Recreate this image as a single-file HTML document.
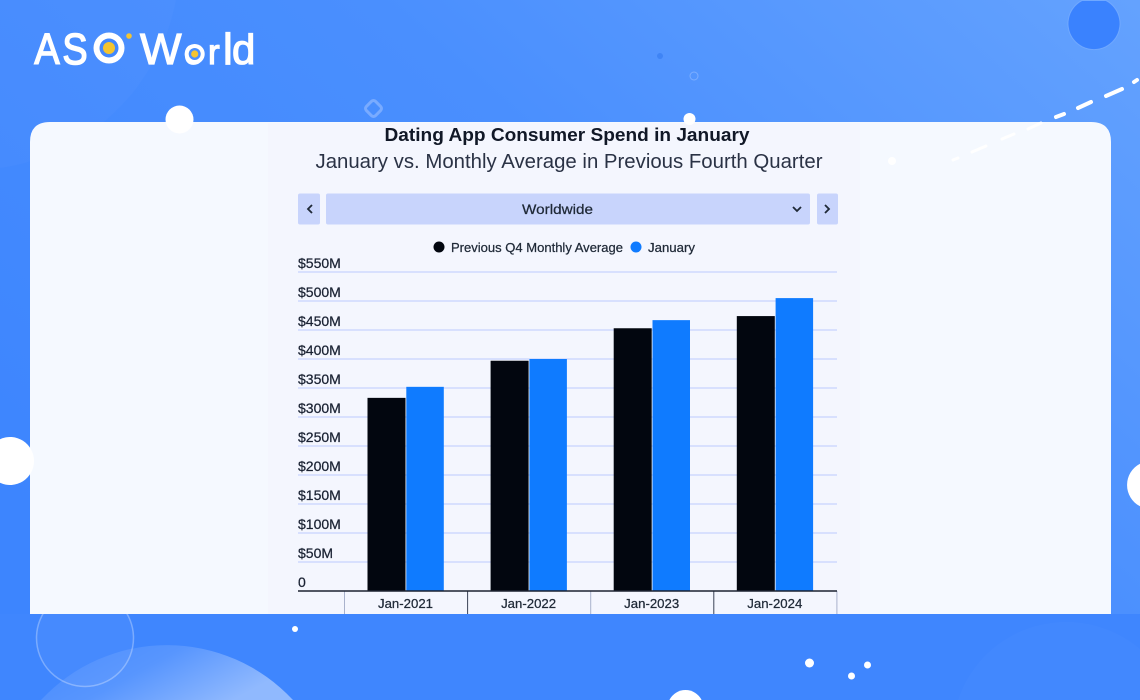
<!DOCTYPE html>
<html lang="en">
<head>
<meta charset="utf-8">
<title>Dating App Consumer Spend in January</title>
<style>
  html, body { margin: 0; padding: 0; width: 1140px; height: 700px; overflow: hidden; background: #3f86fe; }
  svg { display: block; }
  text { font-family: "Liberation Sans", sans-serif; }
  .med { stroke-width: 0.25px; }
</style>
</head>
<body>
<svg id="root" xmlns="http://www.w3.org/2000/svg" width="1140" height="700" viewBox="0 0 1140 700">
  <defs>
    <linearGradient id="bgGrad" x1="0" y1="0.7" x2="1" y2="0">
      <stop offset="0" stop-color="#3d85fe"/>
      <stop offset="0.55" stop-color="#4a8ffe"/>
      <stop offset="1" stop-color="#64a2fe"/>
    </linearGradient>
    <linearGradient id="domeGrad" x1="0" y1="0" x2="1" y2="0.4">
      <stop offset="0" stop-color="#ffffff" stop-opacity="0.03"/>
      <stop offset="0.5" stop-color="#ffffff" stop-opacity="0.13"/>
      <stop offset="1" stop-color="#ffffff" stop-opacity="0.42"/>
    </linearGradient>
  </defs>

  <rect x="0" y="0" width="1140" height="700" fill="url(#bgGrad)"/>
  <rect x="0" y="614" width="1140" height="86" fill="#3f86fe"/>

  <g>
    <path d="M0 0 H176 A210 210 0 0 1 0 168 Z" fill="#ffffff" opacity="0.025"/>
    <path d="M1082 0.500 A26 26 0 1 0 1106 0.500 Z" fill="#3a82fe" stroke="#7db0ff" stroke-opacity="0.7" stroke-width="1"/>
    <rect x="367" y="102" width="13" height="13" rx="3" transform="rotate(45 373.5 108.5)" fill="none" stroke="#79abff" stroke-width="3"/>
    <circle cx="660" cy="56" r="3" fill="#3f84f5"/>
    <circle cx="694" cy="76" r="4" fill="none" stroke="#7daeff" stroke-width="1"/>
    <circle cx="85" cy="638" r="48.500" fill="#ffffff" fill-opacity="0.04" stroke="#ffffff" stroke-opacity="0.3" stroke-width="1.500"/>
    <path d="M41 700 A172 172 0 0 1 293 700 Z" fill="url(#domeGrad)"/>
    <path d="M958 700 A114 114 0 0 1 1140 649 V700 Z" fill="#ffffff" opacity="0.018"/>
    <g fill="none" stroke="#ffffff" stroke-width="4" stroke-linecap="round">
      <line x1="1137" y1="80" x2="1134" y2="82"/>
      <line x1="1122" y1="89" x2="1106" y2="96"/>
      <line x1="1091" y1="102" x2="1078" y2="108"/>
      <line x1="1064" y1="114" x2="1056" y2="117"/>
    </g>
  </g>

  <g>
    <text transform="scale(0.86 1)" y="64" font-size="44" fill="#ffffff" stroke="#ffffff" stroke-width="1.500"><tspan x="40">A</tspan><tspan x="72.500">S</tspan><tspan x="112" dy="-3" font-size="36">O</tspan></text>
    <circle cx="109" cy="48" r="15.500" fill="#ffffff"/>
    <circle cx="109" cy="48" r="9.500" fill="#4288fe"/>
    <circle cx="109" cy="48" r="6" fill="#f4c430"/>
    <circle cx="129" cy="36" r="2.800" fill="#f4c430"/>
    <text y="64" font-size="44" fill="#ffffff" stroke="#ffffff" stroke-width="1.200"><tspan x="140">W</tspan><tspan x="184" font-size="35">o</tspan><tspan x="208" font-size="35">r</tspan><tspan x="223">l</tspan><tspan x="232" font-size="42">d</tspan></text>
    <circle cx="194.700" cy="54" r="10" fill="#ffffff"/>
    <circle cx="194.700" cy="54" r="6" fill="#4a8ffe"/>
    <circle cx="194.700" cy="54" r="3.600" fill="#f4c430"/>
  </g>

  <path d="M30 614 V142 Q30 122 50 122 H1091 Q1111 122 1111 142 V614 Z" fill="#f5f9ff"/>
  <rect x="268" y="123" width="592" height="491" fill="#f4f6fe"/>

  <g>
    <circle cx="179.500" cy="119.500" r="14" fill="#ffffff"/>
    <path d="M0 439.200 A24 24 0 1 1 0 482.800 Z" fill="#ffffff"/>
    <path d="M1140 463.700 A24 24 0 0 0 1140 506.300 Z" fill="#ffffff"/>
    <circle cx="689.500" cy="119" r="6" fill="#ffffff"/>
    <circle cx="295" cy="629" r="3" fill="#ffffff"/>
    <circle cx="809.500" cy="663" r="4.500" fill="#ffffff"/>
    <circle cx="867.500" cy="665" r="3.500" fill="#ffffff"/>
    <circle cx="851.500" cy="676" r="3.500" fill="#ffffff"/>
    <path d="M669.400 700 A18 18 0 0 1 701.600 700 Z" fill="#ffffff"/>
    <g fill="#ffffff" stroke="#ffffff" stroke-width="3" stroke-linecap="round">
      <line x1="953" y1="160" x2="958" y2="158"/>
      <line x1="972" y1="152" x2="986" y2="146"/>
      <line x1="1002" y1="139" x2="1014" y2="134"/>
      <line x1="1028" y1="129" x2="1041" y2="123"/>
    </g>
    <circle cx="892" cy="161" r="4" fill="#ffffff"/>
  </g>

  <text x="567" y="141" text-anchor="middle" font-size="18" font-weight="700" fill="#111827" textLength="365" lengthAdjust="spacingAndGlyphs">Dating App Consumer Spend in January</text>
  <text x="569" y="168" text-anchor="middle" font-size="20" fill="#2a3245" textLength="507" lengthAdjust="spacingAndGlyphs">January vs. Monthly Average in Previous Fourth Quarter</text>

  <g>
    <g>
      <rect x="298" y="193.500" width="22" height="31" rx="2" fill="#c8d4fc"/>
      <path d="M312 205 L308 209 L312 213" fill="none" stroke="#1f2937" stroke-width="1.800"/>
    </g>
    <g>
      <rect x="326" y="193.500" width="484" height="31" rx="2" fill="#c8d4fc"/>
      <text x="557.500" y="214" text-anchor="middle" font-size="14" fill="#1f2937" stroke="#1f2937" class="med" textLength="71" lengthAdjust="spacingAndGlyphs">Worldwide</text>
      <path d="M793 207 L797 211 L801 207" fill="none" stroke="#1f2937" stroke-width="1.800"/>
    </g>
    <g>
      <rect x="817" y="193.500" width="21" height="31" rx="2" fill="#c8d4fc"/>
      <path d="M825 205 L829 209 L825 213" fill="none" stroke="#1f2937" stroke-width="1.800"/>
    </g>
  </g>

  <g>
    <g>
      <circle cx="439" cy="247" r="5.500" fill="#02060f"/>
      <text x="451" y="252" font-size="13" fill="#1f2937" stroke="#1f2937" class="med" textLength="172" lengthAdjust="spacingAndGlyphs">Previous Q4 Monthly Average</text>
    </g>
    <g>
      <circle cx="636" cy="247" r="5.500" fill="#0f7bff"/>
      <text x="648" y="252" font-size="13" fill="#1f2937" stroke="#1f2937" class="med" textLength="47" lengthAdjust="spacingAndGlyphs">January</text>
    </g>
  </g>

  <g id="chart"></g>
</svg>

<script>
const categories = ["Jan-2021", "Jan-2022", "Jan-2023", "Jan-2024"];
const previousQ4Values = [333, 397, 453, 474];
const januaryValues = [352, 400, 467, 505];
const yTickValues = [0, 50, 100, 150, 200, 250, 300, 350, 400, 450, 500, 550];
const yTickLabels = ["0", "$50M", "$100M", "$150M", "$200M", "$250M", "$300M", "$350M", "$400M", "$450M", "$500M", "$550M"];

const NS = "http://www.w3.org/2000/svg";
const chart = document.getElementById("chart");
const plot = { left: 298, right: 837, top: 272, bottom: 591, bandLeft: 344.5, bandWidth: 123.1, yMax: 550 };

function yScale(v) {
  return plot.bottom - (v / plot.yMax) * (plot.bottom - plot.top);
}
function bandX(i) {
  return plot.bandLeft + i * plot.bandWidth;
}
function make(tag, attrs) {
  const el = document.createElementNS(NS, tag);
  Object.keys(attrs).forEach(function (k) { el.setAttribute(k, attrs[k]); });
  chart.appendChild(el);
  return el;
}

yTickValues.forEach(function (v, i) {
  if (v > 0) {
    const grid = make("line", { x1: plot.left, x2: plot.right, y1: yScale(v), y2: yScale(v), stroke: "#c6d3ff", "stroke-width": 1.3 });
    
    
  }
  const label = make("text", { x: plot.left, y: yScale(v) - 4, "font-size": 14, fill: "#1a2233", stroke: "#1a2233", class: "med" });
  label.textContent = yTickLabels[i];
  
  
});

categories.forEach(function (c, i) {
  const x0 = bandX(i);
  const blackTop = yScale(previousQ4Values[i]);
  const blueTop = yScale(januaryValues[i]);

  const prevBar = make("rect", { x: x0 + 23, y: blackTop, width: 38, height: plot.bottom - blackTop, fill: "#02060f" });
  
  

  const janBar = make("rect", { x: x0 + 61.8, y: blueTop, width: 37.5, height: plot.bottom - blueTop, fill: "#0f7bff" });
  
  

  const label = make("text", { x: x0 + 61, y: 608, "text-anchor": "middle", "font-size": 13, fill: "#1f2937", stroke: "#1f2937", class: "med" });
  label.setAttribute("textLength", 55);
  label.setAttribute("lengthAdjust", "spacingAndGlyphs");
  label.textContent = c;
  
  
});

for (let i = 0; i <= categories.length; i++) {
  const tick = make("line", { x1: bandX(i), x2: bandX(i), y1: plot.bottom, y2: 614, stroke: i % 2 ? "#3a4256" : "#a9b2cc", "stroke-width": 1 });
  
  
}

const axisLine = make("line", { x1: plot.left, x2: plot.right, y1: plot.bottom, y2: plot.bottom, stroke: "#1c2230", "stroke-width": 1.6 });


</script>
</body>
</html>
